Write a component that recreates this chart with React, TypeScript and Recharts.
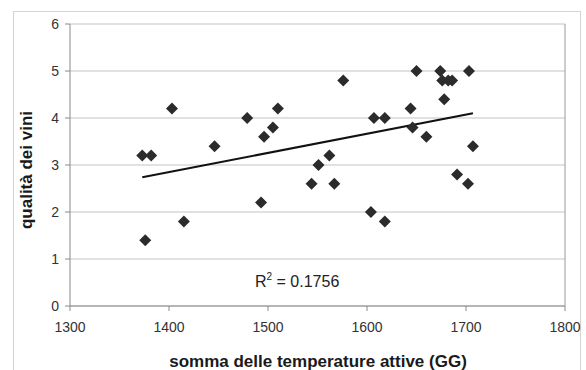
import React from "react";
import { ScatterChart, Scatter, XAxis, YAxis, CartesianGrid, ReferenceLine, Customized } from "recharts";

const gddValues = [1373, 1382, 1376, 1403, 1415, 1446, 1479, 1493, 1496, 1505, 1510, 1544, 1551, 1562, 1567, 1576, 1604, 1607, 1618, 1618, 1644, 1646, 1650, 1660, 1674, 1676, 1678, 1682, 1686, 1691, 1702, 1703, 1707];
const qualityValues = [3.2, 3.2, 1.4, 4.2, 1.8, 3.4, 4.0, 2.2, 3.6, 3.8, 4.2, 2.6, 3.0, 3.2, 2.6, 4.8, 2.0, 4.0, 1.8, 4.0, 4.2, 3.8, 5.0, 3.6, 5.0, 4.8, 4.4, 4.8, 4.8, 2.8, 2.6, 5.0, 3.4];
const trendX = [1373, 1707];
const trendY = [2.74, 4.1];
const xTicks = [1300, 1400, 1500, 1600, 1700, 1800];
const yTicks = [0, 1, 2, 3, 4, 5, 6];
const xTitle = "somma delle temperature attive (GG)";
const yTitle = "qualità dei vini";
const r2Value = "0.1756";

const points = gddValues.map((x, i) => ({ x, y: qualityValues[i] }));
const trendSegment = trendX.map((x, i) => ({ x, y: trendY[i] }));

const FONT = "'Liberation Sans', Arial, sans-serif";

const Diamond = (props: any) => {
  const { cx, cy } = props;
  const r = 6;
  return <path d={`M${cx},${cy - r}L${cx + r},${cy}L${cx},${cy + r}L${cx - r},${cy}Z`} fill="#2b2b2b" />;
};

const Texts = () => (
  <g fontFamily={FONT}>
    <text x={318} y={367} textAnchor="middle" fontSize={17} fontWeight="bold" fill="#1a1a1a">{xTitle}</text>
    <text x={0} y={0} transform="translate(32,170) rotate(-90)" textAnchor="middle" fontSize={17} fontWeight="bold" fill="#1a1a1a">{yTitle}</text>
    <text x={255} y={287} fontSize={16} fill="#222">
      R<tspan fontSize={10} dy={-7}>2</tspan><tspan dy={7}>{" = " + r2Value}</tspan>
    </text>
  </g>
);

export default function App() {
  return (
    <div style={{ position: "absolute", left: 0, top: 0, width: 586, height: 370, background: "#fff" }}>
      <div style={{ position: "absolute", left: 13, top: 11, width: 568, height: 370, border: "1px solid #d4d4d4", boxSizing: "border-box" }} />
      <div style={{ position: "absolute", left: 0, top: 0 }}>
        <ScatterChart width={586} height={370} margin={{ top: 24, right: 21, bottom: 0, left: 0 }}>
          <CartesianGrid vertical={false} stroke="#c4c4c4" strokeWidth={1.2} />
          <XAxis
            type="number"
            dataKey="x"
            domain={[1300, 1800]}
            ticks={xTicks}
            height={64}
            tickSize={5}
            tickMargin={11}
            stroke="#8a8a8a"
            tick={{ fill: "#333", fontSize: 14, fontFamily: FONT }}
            interval={0}
          />
          <YAxis
            type="number"
            dataKey="y"
            domain={[0, 6]}
            ticks={yTicks}
            width={70}
            tickSize={5}
            tickMargin={6}
            stroke="#8a8a8a"
            tick={{ fill: "#333", fontSize: 14, fontFamily: FONT }}
            interval={0}
          />
          <ReferenceLine x={1800} stroke="#9a9a9a" />
          <ReferenceLine segment={trendSegment} stroke="#111" strokeWidth={2} />
          <Scatter data={points} shape={<Diamond />} isAnimationActive={false} />
          <Customized component={Texts} />
        </ScatterChart>
      </div>
    </div>
  );
}
